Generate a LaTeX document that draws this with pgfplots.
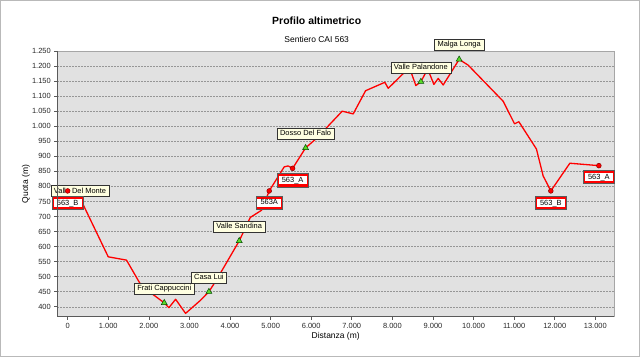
\documentclass[border=0pt]{standalone}
\usepackage{fontspec}
\setmainfont{Liberation Sans}
\usepackage{pgfplots}
\pgfplotsset{compat=1.18}
\definecolor{bgcol}{RGB}{225,225,225}
\definecolor{gridcol}{RGB}{150,150,150}
\definecolor{tipfill}{RGB}{255,255,225}
\definecolor{mkgreen}{RGB}{90,220,40}
\definecolor{axdark}{RGB}{90,90,90}
\begin{document}
\begin{tikzpicture}[
  tip/.style={draw=black!80, fill=tipfill, font=\fontsize{7.5}{9}\selectfont, inner xsep=3bp, inner ysep=2bp, text height=5.6bp, text depth=1.4bp, line width=0.5bp},
  redbox/.style={draw=axdark, line width=0.7bp, font=\fontsize{7.5}{9}\selectfont, inner xsep=4.5bp, inner ysep=3.2bp, text height=5.6bp, text depth=1.4bp,
    path picture={
      \fill[red] (path picture bounding box.south west) rectangle (path picture bounding box.north east);
      \fill[white] ([xshift=1.2bp,yshift=2.6bp]path picture bounding box.south west) rectangle ([xshift=-1.2bp,yshift=-2.6bp]path picture bounding box.north east);
    }}
]
\begin{axis}[
  at={(57.3bp,40.3bp)}, anchor=south west,
  scale only axis, width=556.7bp, height=265.7bp,
  xmin=-255, xmax=13460, ymin=367, ymax=1250,
  clip=false,
  axis background/.style={fill=bgcol},
  axis line style={draw=gray!70, line width=0.6bp},
  xtick={0,1000,...,13000}, ytick={400,450,...,1250},
  scaled x ticks=false, scaled y ticks=false,
  xtick pos=bottom, ytick pos=left,
  tick align=outside, major tick length=3bp,
  tick style={axdark, line width=0.6bp},
  ymajorgrids, grid style={gridcol, dash pattern=on 1.5bp off 1.5bp, line width=0.5bp},
  ticklabel style={font=\fontsize{7.5}{9}\selectfont, text=black!85},
  /pgf/number format/assume math mode=true,
  /pgf/number format/1000 sep={.},
  after end axis/.code={
    \draw[axdark, line width=0.8bp] (rel axis cs:0,1) -- (rel axis cs:0,0) -- (rel axis cs:1,0);
  },
]
\addplot[red, line width=1.3bp, line join=round, no markers] coordinates {
(0,785) (380,740) (1000,566) (1450,555) (1780,478) (2110,440) (2380,413)
(2495,397) (2660,425) (2905,378) (3260,420) (3480,450) (3670,490) (4227,619)
(4500,697) (4780,721) (4966,785) (5335,865) (5433,868) (5542,860) (5862,928)
(6133,960) (6764,1050) (7035,1041) (7340,1118) (7815,1146) (7897,1126)
(8420,1195) (8579,1135) (8702,1148) (8870,1190) (9023,1139) (9129,1159)
(9252,1137) (9645,1222) (9867,1203) (10729,1083) (11010,1008) (11116,1015)
(11550,924) (11714,835) (11904,785) (12372,877) (13087,869)
};
\node[tip, xshift=12.4bp] at (axis cs:0,785) {Valle Del Monte};
\node[tip, yshift=14.3bp] at (axis cs:2380,413) {Frati Cappuccini};
\node[tip, yshift=14.3bp] at (axis cs:3480,450) {Casa Lui};
\node[tip, yshift=14.3bp] at (axis cs:4227,619) {Valle Sandina};
\node[tip, yshift=14.3bp] at (axis cs:5862,928) {Dosso Del Falo};
\node[tip, yshift=14.3bp] at (axis cs:8702,1148) {Valle Palandone};
\node[tip, yshift=14.8bp] at (axis cs:9645,1222) {Malga Longa};
\node[redbox, yshift=-12bp] at (axis cs:0,785) {563\_B};
\node[redbox, yshift=-11.8bp] at (axis cs:4966,785) {563A};
\node[redbox, yshift=-11.8bp] at (axis cs:5542,860) {563\_A};
\node[redbox, yshift=-12bp] at (axis cs:11904,785) {563\_B};
\node[redbox, yshift=-11.3bp] at (axis cs:13087,869) {563\_A};
\addplot[only marks, mark=*, mark size=2.4bp, mark options={fill=red, draw=red!55!black, line width=0.5bp}] coordinates {
(0,785) (4966,785) (5542,860) (11904,785) (13087,869)
};
\addplot[only marks, mark=triangle*, mark size=3.4bp, mark options={fill=mkgreen, draw=black!70!green, line width=0.5bp}] coordinates {
(2380,413) (3480,450) (4227,619) (5862,928) (8702,1148) (9645,1222)
};
\end{axis}
\node[font=\bfseries\fontsize{10.5}{12}\selectfont] at (316.7bp,336bp) {Profilo altimetrico};
\node[font=\fontsize{8.5}{10}\selectfont] at (316.7bp,317.7bp) {Sentiero CAI 563};
\node[font=\fontsize{8.5}{10}\selectfont] at (335.7bp,20.3bp) {Distanza (m)};
\node[font=\fontsize{8.5}{10}\selectfont, rotate=90] at (26bp,173bp) {Quota (m)};
\draw[gray!55, line width=1bp] (0.5bp,0.5bp) rectangle (639.5bp,356.5bp);
\pgfresetboundingbox
\useasboundingbox (0,0) rectangle (640bp,357bp);
\end{tikzpicture}
\end{document}
